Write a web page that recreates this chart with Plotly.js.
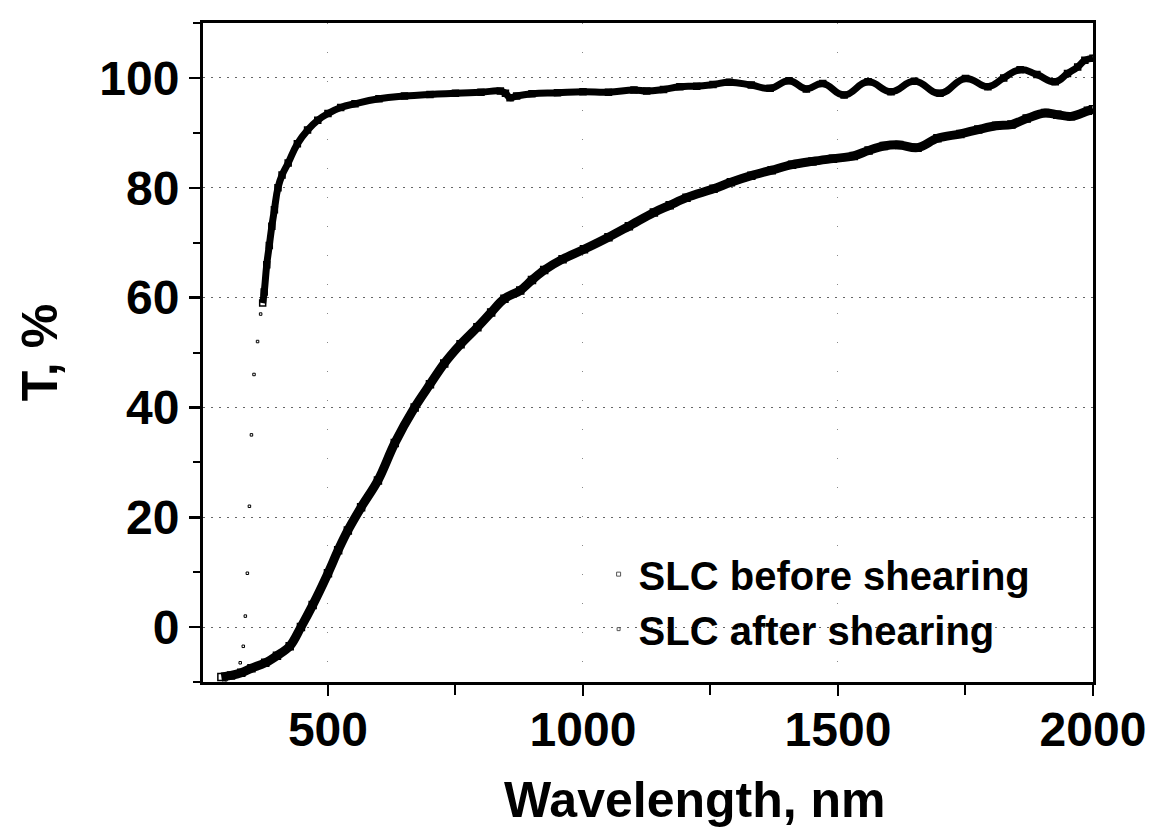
<!DOCTYPE html>
<html>
<head>
<meta charset="utf-8">
<script src="https://cdn.plot.ly/plotly-3.0.1.min.js"></script>
<style>html,body{margin:0;padding:0;background:#fff;}#chart{width:1154px;height:839px;}</style>
</head>
<body>
<div id="chart"></div>
<script>
// "SLC after shearing" (lower curve)
var afterX = [291, 310, 330, 350, 377, 400, 425, 447, 470, 500, 520, 539, 565, 598, 631, 670, 700, 728, 760, 793, 820, 846, 877, 900, 924, 960, 1002, 1050, 1090, 1139, 1170, 1203, 1256, 1290, 1330, 1370, 1410, 1450, 1490, 1531, 1560, 1590, 1620, 1656, 1695, 1740, 1775, 1810, 1840, 1870, 1906, 1930, 1957, 1990, 2000];
var afterY = [-9.1, -8.8, -8.3, -7.5, -6.5, -5.2, -3.5, 0, 4, 9.8, 14, 17.6, 21.8, 26.7, 33.5, 40, 44.2, 48, 51.5, 54.6, 57.3, 59.8, 61.3, 63.2, 65, 67, 68.8, 71, 73, 75.5, 76.8, 78.2, 79.8, 81, 82.2, 83.2, 84.2, 84.8, 85.3, 85.8, 86.8, 87.6, 87.8, 87.3, 89, 89.8, 90.6, 91.3, 91.5, 92.6, 93.6, 93.3, 93, 94, 94.3];

// "SLC before shearing": steep absorption edge (sparse points)
var beforeRiseX = [300, 318, 328, 334, 338, 342, 346, 350, 355, 362, 368];
var beforeRiseY = [-9.6, -9, -6.5, -3.5, 2, 9.8, 22, 35, 46, 52, 57];

// "SLC before shearing": main plateau
var beforeX = [372, 375, 380, 385, 390, 395, 402, 410, 422, 440, 460, 480, 500, 525, 553, 600, 650, 700, 750, 800, 838, 848, 857, 870, 900, 950, 1000, 1050, 1100, 1125, 1158, 1190, 1223, 1255, 1287, 1330, 1367, 1404, 1438, 1470, 1512, 1559, 1604, 1650, 1700, 1750, 1794, 1825, 1857, 1890, 1926, 1950, 1970, 1984, 2000];
var beforeY = [59, 61, 66, 69.5, 73, 76, 80, 82.3, 84.5, 88, 90.5, 92.3, 93.5, 94.6, 95.3, 96.2, 96.7, 97, 97.2, 97.4, 97.6, 97.2, 96.4, 96.7, 97.1, 97.3, 97.5, 97.4, 97.8, 97.6, 97.9, 98.4, 98.5, 98.8, 99.2, 98.7, 98.1, 99.5, 98, 99, 96.9, 99.3, 97.5, 99.4, 97.2, 99.9, 98.4, 100, 101.5, 100.6, 99.3, 100.8, 102, 103.2, 103.6];

var legendNames = ["SLC before shearing", "SLC after shearing"];
var xTicks = [500, 1000, 1500, 2000];
var yTicks = [0, 20, 40, 60, 80, 100];
var xTitle = "Wavelength, nm";
var yTitle = "T, %";

var fontFam = "Liberation Sans, Arial, sans-serif";

var traces = [
  {x: beforeRiseX, y: beforeRiseY, mode: "markers", showlegend: false,
   marker: {symbol: "square-open", size: 2.5, color: "#000", line: {width: 1}}},
  {x: beforeX, y: beforeY, mode: "lines+markers", showlegend: false,
   line: {color: "#000", width: 7, shape: "spline", smoothing: 1.3},
   marker: {symbol: "square-open", size: 6, color: "#000", line: {width: 1.5}}},
  {x: afterX, y: afterY, mode: "lines+markers", showlegend: false,
   line: {color: "#000", width: 9, shape: "spline", smoothing: 1.0},
   marker: {symbol: "square-open", size: 7, color: "#000", line: {width: 1.5}}},
  {x: [null], y: [null], mode: "markers", name: legendNames[0],
   marker: {symbol: "square-open", size: 4, color: "#555", line: {width: 1}}},
  {x: [null], y: [null], mode: "markers", name: legendNames[1],
   marker: {symbol: "square-open", size: 3, color: "#555", line: {width: 1}}}
];

var layout = {
  width: 1154, height: 839,
  margin: {l: 203, r: 61, t: 23, b: 157},
  paper_bgcolor: "#fff", plot_bgcolor: "#fff",
  font: {family: fontFam, color: "#000", weight: "bold"},
  showlegend: true,
  legend: {x: 0.4445, xanchor: "left", y: 0.213, yanchor: "top",
           bgcolor: "rgba(0,0,0,0)", font: {size: 40, family: fontFam, weight: "bold", color: "#000"},
           tracegroupgap: 0, itemwidth: 30},
  xaxis: {
    range: [255, 2000], tickvals: xTicks, ticktext: xTicks.map(String),
    ticks: "outside", ticklen: 11, tickwidth: 2.5, tickcolor: "#000",
    ticklabelstandoff: -8,
    minor: {dtick: 250, tick0: 0, ticks: "outside", ticklen: 10, tickwidth: 2, tickcolor: "#000", showgrid: false},
    showline: true, linewidth: 3, linecolor: "#000", mirror: true,
    showgrid: true, gridcolor: "#888", gridwidth: 1, griddash: "1px,28px",
    zeroline: false,
    tickfont: {size: 48, family: fontFam, weight: "bold", color: "#000"}
  },
  yaxis: {
    range: [-10, 110], tickvals: yTicks, ticktext: yTicks.map(String),
    ticks: "outside", ticklen: 11, tickwidth: 2.5, tickcolor: "#000",
    minor: {dtick: 10, tick0: 0, ticks: "outside", ticklen: 7, tickwidth: 2, tickcolor: "#000", showgrid: false},
    showline: true, linewidth: 3, linecolor: "#000", mirror: true,
    showgrid: true, gridcolor: "#666", gridwidth: 1, griddash: "2px,6px",
    zeroline: false,
    tickfont: {size: 48, family: fontFam, weight: "bold", color: "#000"},
    title: {text: yTitle, standoff: 26, font: {size: 50, family: fontFam, weight: "bold", color: "#000"}}
  },
  annotations: [
    {text: xTitle, xref: "paper", yref: "paper", x: 0.553, y: -0.179,
     xanchor: "center", yanchor: "middle", showarrow: false,
     font: {size: 50, family: fontFam, weight: "bold", color: "#000"}}
  ]
};

Plotly.newPlot("chart", traces, layout, {displayModeBar: false, staticPlot: true});
</script>
</body>
</html>
